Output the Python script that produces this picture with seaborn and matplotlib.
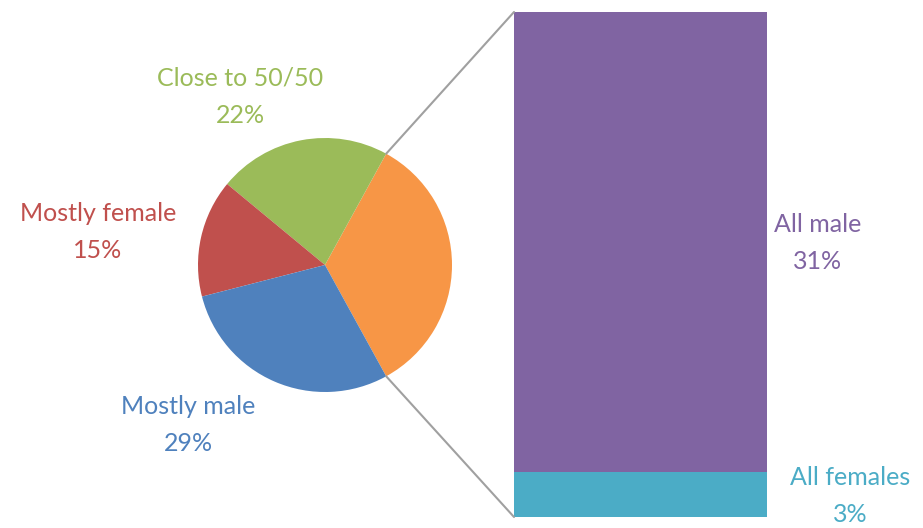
import numpy as np
import matplotlib
matplotlib.use("Agg")
import matplotlib.pyplot as plt
from matplotlib.patches import ConnectionPatch
import seaborn as sns
import pandas as pd

# Data
pie_labels = ["Other (split)", "Close to 50/50", "Mostly female", "Mostly male"]
pie_values = [34, 22, 15, 29]
bar_labels = ["All male", "All females"]
bar_values = [31, 3]

pie_colors = ["#F79646", "#9BBB59", "#C0504D", "#4F81BD"]
bar_colors = ["#8064A2", "#4BACC6"]

sns.set_theme(style="white")
plt.rcParams['font.family'] = ['Lato', 'DejaVu Sans']

W, H = 923, 528
fig = plt.figure(figsize=(W / 100, H / 100), dpi=100)
fig.patch.set_facecolor("white")

# Pie axes in pixel-like coordinates
ax = fig.add_axes([0, 0, 1, 1])
cx, cy, r = 325, H - 265, 127
start = -360 * pie_values[0] / sum(pie_values) / 2
wedges, _ = ax.pie(pie_values, colors=pie_colors, startangle=start,
                   center=(cx, cy), radius=r, frame=True,
                   wedgeprops=dict(linewidth=0))
ax.set_xlim(0, W)
ax.set_ylim(0, H)
ax.axis("off")

# Bar axes
bl, bt, br, bb = 514, 12, 767, 517
axb = fig.add_axes([bl / W, (H - bb) / H, (br - bl) / W, (bb - bt) / H])
df = pd.DataFrame({"x": [0], "total": [sum(bar_values)], "bottom": [bar_values[1]]})
sns.barplot(data=df, x="x", y="total", color=bar_colors[0], width=1.0,
            saturation=1, linewidth=0, ax=axb)
sns.barplot(data=df, x="x", y="bottom", color=bar_colors[1], width=1.0,
            saturation=1, linewidth=0, ax=axb)
axb.set_xlim(-0.5, 0.5)
axb.set_ylim(0, sum(bar_values))
axb.axis("off")

# Connector lines
theta = np.deg2rad(start + 360 * pie_values[0] / sum(pie_values))
p_top = (cx + r * np.cos(theta), cy + r * np.sin(theta))
theta2 = np.deg2rad(start)
p_bot = (cx + r * np.cos(theta2), cy + r * np.sin(theta2))
for p, yb in [(p_top, sum(bar_values)), (p_bot, 0)]:
    con = ConnectionPatch(xyA=p, coordsA=ax.transData,
                          xyB=(-0.5, yb), coordsB=axb.transData,
                          color="#A0A0A0", linewidth=1.5)
    fig.add_artist(con)

fs = 18
def lab(x, y, text, color):
    ax.text(x, H - y, text, color=color, fontsize=fs, ha="center", va="center",
            linespacing=1.75)

lab(240, 97, f"{pie_labels[1]}\n{pie_values[1]}%", pie_colors[1])
lab(98, 232, f"{pie_labels[2]}\n{pie_values[2]}%", pie_colors[2])
lab(188, 425, f"{pie_labels[3]}\n{pie_values[3]}%", pie_colors[3])
lab(818, 243, f"{bar_labels[0]}\n{bar_values[0]}%", bar_colors[0])
lab(850, 496, f"{bar_labels[1]}\n{bar_values[1]}%", bar_colors[1])

fig.savefig("out.png", dpi=100, facecolor="white")
